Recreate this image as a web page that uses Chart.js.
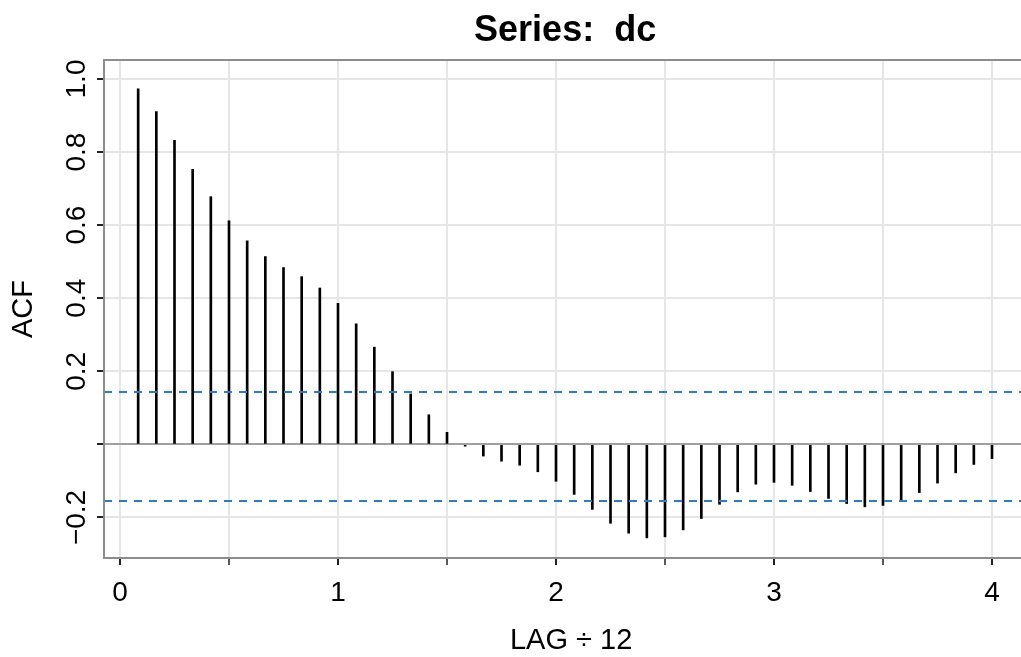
<!DOCTYPE html>
<html>
<head>
<meta charset="utf-8">
<script src="https://cdn.jsdelivr.net/npm/chart.js@4"></script>
<style>
  html, body { margin: 0; padding: 0; background: #fff; }
</style>
</head>
<body>
<canvas id="out" width="1021" height="657"></canvas>
<script>
// lag numbers (axis shows LAG / 12) and the sample ACF
const lagNumbers = [1, 2, 3, 4, 5, 6, 7, 8, 9, 10, 11, 12,
  13, 14, 15, 16, 17, 18, 19, 20, 21, 22, 23, 24,
  25, 26, 27, 28, 29, 30, 31, 32, 33, 34, 35, 36,
  37, 38, 39, 40, 41, 42, 43, 44, 45, 46, 47, 48];
const acfValues = [0.973, 0.911, 0.832, 0.753, 0.678, 0.612, 0.557, 0.514, 0.484, 0.459, 0.428, 0.386,
  0.330, 0.266, 0.199, 0.138, 0.081, 0.033, -0.005, -0.032, -0.046, -0.057, -0.075, -0.101,
  -0.137, -0.178, -0.216, -0.243, -0.256, -0.253, -0.234, -0.203, -0.164, -0.130, -0.109, -0.104,
  -0.112, -0.129, -0.148, -0.162, -0.171, -0.167, -0.152, -0.132, -0.106, -0.078, -0.055, -0.039];
const ciUpper = 0.143;
const ciLower = -0.155;

const xTickValues = [0, 0.5, 1, 1.5, 2, 2.5, 3, 3.5, 4];
const yTickValues = [-0.2, 0, 0.2, 0.4, 0.6, 0.8, 1.0];
const yTickLabels = ["\u22120.2", "", "0.2", "0.4", "0.6", "0.8", "1.0"];

const titleText = "Series:  dc";
const xTitle = "LAG \u00F7 12";
const yTitle = "ACF";

// axis limits (R style, plot runs off the right edge of the picture)
const xMin = -0.0734, xMax = 4.133, xPlotEnd = 4.157;
const yMin = -0.311, yMax = 1.052;

const FONT = "'Liberation Sans', Arial, Helvetica, sans-serif";

const decor = {
  id: "decor",
  afterDatasetsDraw(chart) {
    const { ctx, chartArea: a, scales: { x, y } } = chart;
    const right = x.getPixelForValue(xPlotEnd);
    ctx.save();
    ctx.strokeStyle = "#8c8c8c";
    ctx.lineWidth = 2;
    ctx.strokeRect(a.left, a.top, right - a.left, a.bottom - a.top);

    ctx.fillStyle = "#000";
    // y tick labels, rotated like R's las = 0
    ctx.font = "28px " + FONT;
    ctx.textAlign = "center";
    ctx.textBaseline = "alphabetic";
    yTickValues.forEach((v, i) => {
      if (!yTickLabels[i]) return;
      ctx.save();
      ctx.translate(85, y.getPixelForValue(v));
      ctx.rotate(-Math.PI / 2);
      ctx.fillText(yTickLabels[i], 0, 0);
      ctx.restore();
    });

    // axis titles
    const midX = (a.left + right) / 2;
    const midY = (a.top + a.bottom) / 2;
    ctx.font = "29px " + FONT;
    ctx.fillText(xTitle, midX + 6, 649);
    ctx.save();
    ctx.translate(32, midY);
    ctx.rotate(-Math.PI / 2);
    ctx.fillText(yTitle, 0, 0);
    ctx.restore();

    // main title
    ctx.font = "bold 36px " + FONT;
    ctx.fillText(titleText, midX, 41);
    ctx.restore();
  }
};

const canvasCtx = document.getElementById("out").getContext("2d");

const chartConfig = {
  type: "bar",
  data: {
    datasets: [
      {
        type: "line",
        data: [{ x: xMin, y: ciUpper }, { x: xMax, y: ciUpper }],
        borderColor: "#2a7bd3",
        borderWidth: 2,
        borderDash: [8, 7],
        pointRadius: 0,
        order: 1
      },
      {
        type: "line",
        data: [{ x: xMin, y: ciLower }, { x: xMax, y: ciLower }],
        borderColor: "#2a7bd3",
        borderWidth: 2,
        borderDash: [8, 7],
        pointRadius: 0,
        order: 1
      },
      {
        type: "bar",
        data: lagNumbers.map((k, i) => ({ x: k / 12, y: acfValues[i] })),
        backgroundColor: "#000",
        barThickness: 2,
        order: 2
      }
    ]
  },
  options: {
    responsive: false,
    devicePixelRatio: 1,
    animation: false,
    layout: { padding: { top: 60, right: 0, left: 0, bottom: 0 } },
    plugins: { legend: { display: false }, tooltip: { enabled: false }, title: { display: false } },
    scales: {
      x: {
        type: "linear",
        min: xMin,
        max: xMax,
        offset: false,
        afterBuildTicks: s => { s.ticks = xTickValues.map(v => ({ value: v })); },
        afterFit: s => { s.height = 99; },
        border: { display: false },
        grid: {
          offset: false,
          color: "#e6e6e6",
          lineWidth: 2,
          drawTicks: true,
          tickLength: 7,
          tickColor: "#222",
          tickWidth: c => (Number.isInteger(c.tick.value) ? 2 : 1.5)
        },
        ticks: {
          autoSkip: false,
          maxRotation: 0,
          padding: 11,
          color: "#000",
          font: { family: FONT, size: 28 },
          callback: v => (Number.isInteger(v) ? String(v) : "")
        }
      },
      y: {
        type: "linear",
        min: yMin,
        max: yMax,
        afterBuildTicks: s => { s.ticks = yTickValues.map(v => ({ value: v })); },
        afterFit: s => { s.width = 104; },
        border: { display: false },
        grid: {
          color: c => (c.tick && c.tick.value === 0 ? "#a0a0a0" : "#e6e6e6"),
          lineWidth: 2,
          drawTicks: true,
          tickLength: 7,
          tickColor: "#222",
          tickWidth: 2
        },
        ticks: { display: false }
      }
    }
  },
  plugins: [decor]
};

window.chart = new Chart(canvasCtx, chartConfig);
</script>
</body>
</html>
